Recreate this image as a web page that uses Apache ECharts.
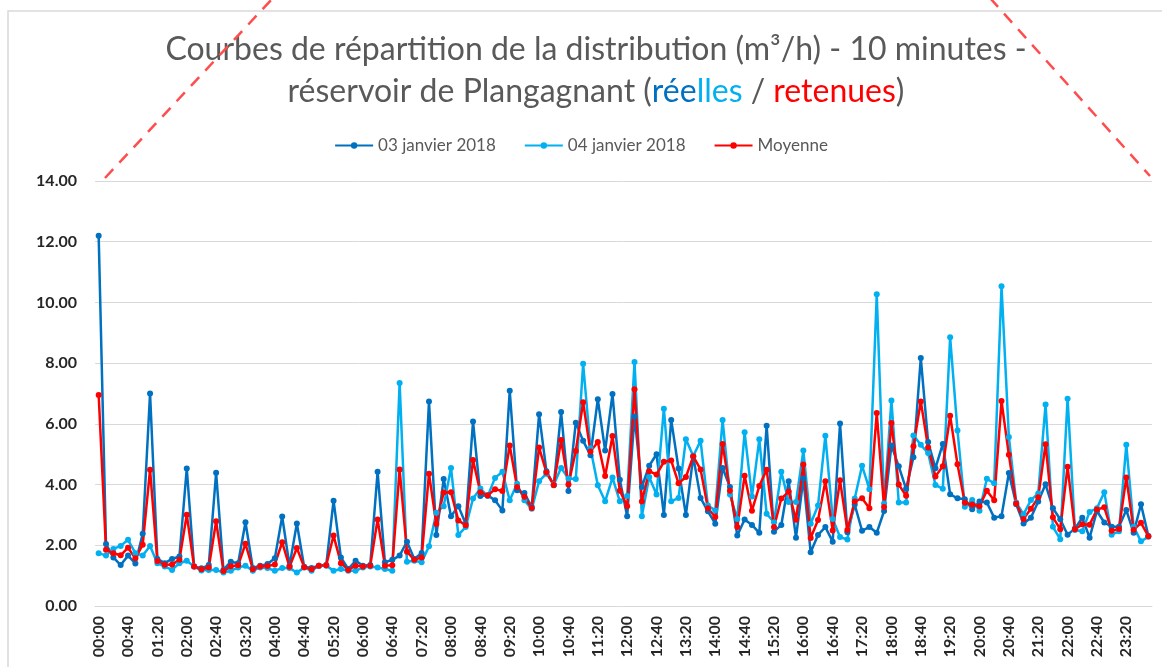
<!DOCTYPE html>
<html>
<head>
<meta charset="utf-8">
<title>Courbes de répartition - Plangagnant</title>
<script src="https://cdn.jsdelivr.net/npm/echarts@6/dist/echarts.min.js"></script>
<style>
  html, body { margin: 0; padding: 0; background: #fff; }
  #chart { width: 1162px; height: 667px; }
</style>
</head>
<body>
<div id="chart"></div>
<script>
// créneaux de 10 minutes
const heures = [
  '00:00','00:10','00:20','00:30','00:40','00:50','01:00','01:10','01:20','01:30','01:40','01:50',
  '02:00','02:10','02:20','02:30','02:40','02:50','03:00','03:10','03:20','03:30','03:40','03:50',
  '04:00','04:10','04:20','04:30','04:40','04:50','05:00','05:10','05:20','05:30','05:40','05:50',
  '06:00','06:10','06:20','06:30','06:40','06:50','07:00','07:10','07:20','07:30','07:40','07:50',
  '08:00','08:10','08:20','08:30','08:40','08:50','09:00','09:10','09:20','09:30','09:40','09:50',
  '10:00','10:10','10:20','10:30','10:40','10:50','11:00','11:10','11:20','11:30','11:40','11:50',
  '12:00','12:10','12:20','12:30','12:40','12:50','13:00','13:10','13:20','13:30','13:40','13:50',
  '14:00','14:10','14:20','14:30','14:40','14:50','15:00','15:10','15:20','15:30','15:40','15:50',
  '16:00','16:10','16:20','16:30','16:40','16:50','17:00','17:10','17:20','17:30','17:40','17:50',
  '18:00','18:10','18:20','18:30','18:40','18:50','19:00','19:10','19:20','19:30','19:40','19:50',
  '20:00','20:10','20:20','20:30','20:40','20:50','21:00','21:10','21:20','21:30','21:40','21:50',
  '22:00','22:10','22:20','22:30','22:40','22:50','23:00','23:10','23:20','23:30','23:40','23:50'
];

// 03 janvier 2018
const jour03 = [
  12.2, 2.04, 1.6, 1.35, 1.66, 1.4, 2.38, 7.0, 1.55, 1.41, 1.55, 1.63,
  4.53, 1.3, 1.24, 1.35, 4.39, 1.19, 1.46, 1.41, 2.76, 1.25, 1.33, 1.38,
  1.57, 2.95, 1.33, 2.72, 1.29, 1.25, 1.33, 1.35, 3.47, 1.6, 1.22, 1.49,
  1.33, 1.35, 4.42, 1.44, 1.52, 1.66, 2.12, 1.55, 1.75, 6.74, 2.34, 4.18,
  2.96, 3.29, 2.71, 6.08, 3.62, 3.65, 3.48, 3.15, 7.09, 3.81, 3.72, 3.26,
  6.32, 4.44, 3.98, 6.39, 3.79, 6.04, 5.44, 4.97, 6.81, 5.12, 6.98, 4.16,
  2.96, 6.24, 3.92, 4.62, 5.0, 3.0, 6.13, 4.53, 3.0, 4.92, 3.56, 3.12,
  2.71, 4.55, 3.92, 2.32, 2.85, 2.67, 2.41, 5.94, 2.45, 2.67, 4.11, 2.25,
  4.2, 1.77, 2.34, 2.6, 2.12, 6.01, 2.43, 3.34, 2.48, 2.6, 2.41, 3.13,
  5.29, 4.6, 3.86, 4.9, 8.17, 5.4, 4.54, 5.34, 3.68, 3.55, 3.52, 3.19,
  3.44, 3.41, 2.91, 2.96, 4.38, 3.35, 2.72, 2.91, 3.44, 4.01, 3.22, 2.86,
  2.35, 2.55, 2.91, 2.25, 3.13, 2.75, 2.61, 2.61, 3.16, 2.41, 3.35, 2.31
];

// 04 janvier 2018
const jour04 = [
  1.74, 1.66, 1.88, 1.98, 2.18, 1.74, 1.66, 1.98, 1.41, 1.3, 1.19, 1.41,
  1.49, 1.3, 1.17, 1.19, 1.19, 1.1, 1.16, 1.27, 1.33, 1.16, 1.27, 1.25,
  1.16, 1.25, 1.25, 1.1, 1.27, 1.16, 1.33, 1.33, 1.16, 1.22, 1.16, 1.16,
  1.27, 1.3, 1.27, 1.22, 1.16, 7.35, 1.46, 1.49, 1.44, 1.97, 3.07, 3.29,
  4.55, 2.34, 2.6, 3.54, 3.87, 3.62, 4.22, 4.42, 3.48, 4.03, 3.48, 3.2,
  4.11, 4.36, 4.0, 4.55, 4.2, 4.18, 7.98, 5.2, 3.98, 3.45, 4.23, 3.45,
  3.62, 8.04, 2.96, 4.25, 3.67, 6.5, 3.45, 3.56, 5.49, 4.94, 5.44, 3.31,
  3.15, 6.13, 3.67, 2.87, 5.72, 3.61, 5.49, 3.04, 2.76, 4.42, 3.43, 3.43,
  5.12, 2.71, 3.31, 5.61, 2.87, 2.27, 2.19, 3.54, 4.62, 3.85, 10.27, 3.38,
  6.77, 3.41, 3.41, 5.62, 5.31, 5.04, 3.99, 3.86, 8.85, 5.78, 3.27, 3.49,
  3.14, 4.19, 4.04, 10.53, 5.57, 3.41, 3.02, 3.49, 3.71, 6.64, 2.61, 2.2,
  6.83, 2.5, 2.46, 3.1, 3.22, 3.75, 2.35, 2.46, 5.31, 2.61, 2.13, 2.28
];

// Moyenne (courbe retenue)
const moyenne = [
  6.95, 1.85, 1.74, 1.67, 1.92, 1.57, 2.02, 4.49, 1.48, 1.36, 1.37, 1.52,
  3.01, 1.3, 1.21, 1.27, 2.79, 1.15, 1.31, 1.34, 2.05, 1.21, 1.3, 1.32,
  1.37, 2.1, 1.29, 1.91, 1.28, 1.21, 1.33, 1.34, 2.32, 1.41, 1.19, 1.33,
  1.3, 1.33, 2.85, 1.33, 1.34, 4.5, 1.79, 1.52, 1.6, 4.36, 2.7, 3.74,
  3.75, 2.82, 2.66, 4.81, 3.75, 3.64, 3.85, 3.79, 5.29, 3.92, 3.6, 3.23,
  5.22, 4.4, 3.99, 5.47, 4.0, 5.11, 6.71, 5.09, 5.4, 4.28, 5.6, 3.8,
  3.29, 7.14, 3.44, 4.44, 4.33, 4.75, 4.79, 4.04, 4.25, 4.93, 4.5, 3.22,
  2.93, 5.34, 3.8, 2.6, 4.29, 3.14, 3.95, 4.49, 2.6, 3.54, 3.77, 2.84,
  4.66, 2.24, 2.83, 4.11, 2.49, 4.14, 2.5, 3.44, 3.55, 3.22, 6.36, 3.26,
  6.03, 4.0, 3.63, 5.26, 6.74, 5.22, 4.27, 4.6, 6.27, 4.67, 3.4, 3.34,
  3.29, 3.8, 3.48, 6.75, 4.98, 3.38, 2.87, 3.2, 3.58, 5.33, 2.92, 2.53,
  4.59, 2.53, 2.69, 2.68, 3.18, 3.25, 2.48, 2.54, 4.23, 2.51, 2.74, 2.3
];

const nomsSeries = ['03 janvier 2018', '04 janvier 2018', 'Moyenne'];
const couleurs = ['#0070c0', '#00b0f0', '#ff0000'];

const police = 'Lato, "Open Sans", sans-serif';

const myChart = echarts.init(document.getElementById('chart'));

function courbe(nom, valeurs, couleur) {
  return {
    name: nom,
    type: 'line',
    data: valeurs,
    symbol: 'circle',
    symbolSize: 6,
    showAllSymbol: true,
    lineStyle: { width: 2.5, color: couleur },
    itemStyle: { color: couleur },
    emphasis: { disabled: true },
    animation: false
  };
}

const option = {
  backgroundColor: '#fff',
  textStyle: { fontFamily: police },
  title: {
    text: '{g|Courbes de répartition de la distribution (m³/h) - 10 minutes -}\n' +
          '{g|réservoir de Plangagnant (}{b|rée}{c|lles}{g| / }{r|retenues}{g|)}',
    left: 591,
    top: 24,
    textAlign: 'center',
    textStyle: {
      fontFamily: police,
      fontWeight: 'normal',
      rich: {
        g: { fontSize: 32, color: '#595959', fontFamily: police, lineHeight: 42 },
        b: { fontSize: 32, color: '#0070c0', fontFamily: police, lineHeight: 42 },
        c: { fontSize: 32, color: '#00b0f0', fontFamily: police, lineHeight: 42 },
        r: { fontSize: 32, color: '#ff0000', fontFamily: police, lineHeight: 42 }
      }
    }
  },
  legend: {
    data: nomsSeries,
    top: 132,
    left: 'center',
    itemWidth: 38,
    itemHeight: 8,
    itemGap: 28,
    textStyle: { fontSize: 17, color: '#595959', fontFamily: police }
  },
  grid: {
    left: 95,
    right: 10,
    top: 181,
    bottom: 61,
    containLabel: false
  },
  xAxis: {
    type: 'category',
    data: heures,
    boundaryGap: true,
    axisLine: { lineStyle: { color: '#d9d9d9', width: 1 } },
    axisTick: { show: false },
    axisLabel: {
      interval: 3,
      rotate: 90,
      fontSize: 16,
      fontWeight: 'bold',
      color: '#262626',
      fontFamily: police,
      margin: 10
    }
  },
  yAxis: {
    type: 'value',
    min: 0,
    max: 14,
    interval: 2,
    axisLine: { show: false },
    axisTick: { show: false },
    axisLabel: {
      formatter: function (v) { return v.toFixed(2); },
      fontSize: 16,
      fontWeight: 'bold',
      color: '#262626',
      fontFamily: police,
      margin: 18
    },
    splitLine: { lineStyle: { color: '#d9d9d9', width: 1 } }
  },
  graphic: [
    {
      // cadre du graphique
      type: 'rect',
      z: -1,
      shape: { x: 8, y: 11, width: 1200, height: 700 },
      style: { fill: 'none', stroke: '#d9d9d9', lineWidth: 1.5 }
    },
    {
      type: 'line',
      z: 100,
      shape: { x1: 105, y1: 178, x2: 273, y2: -2 },
      style: { stroke: '#ff4d4d', lineWidth: 2.5, lineDash: [12, 9] }
    },
    {
      type: 'line',
      z: 100,
      shape: { x1: 990, y1: -2, x2: 1150, y2: 176 },
      style: { stroke: '#ff4d4d', lineWidth: 2.5, lineDash: [12, 9] }
    }
  ],
  series: [
    courbe(nomsSeries[0], jour03, couleurs[0]),
    courbe(nomsSeries[1], jour04, couleurs[1]),
    courbe(nomsSeries[2], moyenne, couleurs[2])
  ]
};

myChart.setOption(option);
window.addEventListener('resize', () => {
  myChart.resize();
});
</script>
</body>
</html>
